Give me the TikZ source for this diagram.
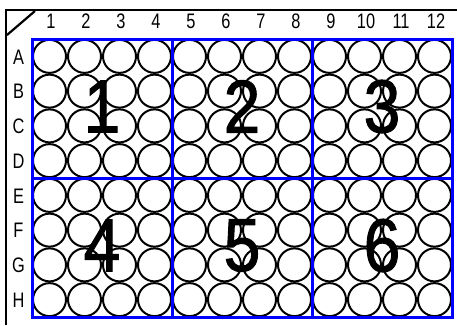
\documentclass[tikz,border=0pt]{standalone}
\usepackage{fontspec}
\setmainfont{Liberation Sans}
\newfontfamily\arialf{Liberation Sans}
\newfontfamily\bigf[FakeBold=1.4]{Liberation Sans}
\begin{document}
\begin{tikzpicture}[x=1pt,y=-1pt,
  well/.style={draw=black,line width=2pt,circle,minimum size=33pt,inner sep=0pt},
  blk/.style={draw=blue,line width=3pt},
  frame/.style={draw=black,line width=2.6pt},
  lab/.style={font=\arialf\fontsize{21}{21}\selectfont,xscale=0.78,inner sep=0pt,anchor=center},
  big/.style={font=\bigf\fontsize{75}{75}\selectfont,xscale=0.88,inner sep=0pt,anchor=center}]
\useasboundingbox (0,0) rectangle (457,325);
\fill[white] (0,0) rectangle (457,325);
% frame
\coordinate (fl) at (6,325);
\coordinate (fc) at (6,10);
\coordinate (fr) at (457,10);
\draw[frame] (fl) -- (fc) -- (fr);
\coordinate (d1) at (7,35);
\coordinate (d2) at (35,11);
\draw[frame,line width=2.2pt] (d1) -- (d2);
% wells
\foreach \c in {1,...,12}{
  \foreach \r [count=\ri] in {A,B,C,D,E,F,G,H}{
    \node[well] (w\r\c) at ({32+17.5+35*(\c-1)},{39+17.375+34.75*(\ri-1)}) {};
  }
}
% column labels
\foreach \c in {1,...,12}{
  \node[lab] (col\c) at ({32+19+35*(\c-1)},21.5) {\c};
}
% row labels
\foreach \r [count=\ri] in {A,B,C,D,E,F,G,H}{
  \node[lab] (row\r) at (18.5,{39+18+34.75*(\ri-1)}) {\r};
}
% blocks
\foreach \bx in {0,1,2}{
  \foreach \by in {0,1}{
    \draw[blk] ({32+140*\bx},{39+139*\by}) rectangle ({172+140*\bx},{178+139*\by});
  }
}
% big numbers
\node[big] (n1) at (102,106.5) {1};
\node[big] (n2) at (242,106.5) {2};
\node[big] (n3) at (382,106.5) {3};
\node[big] (n4) at (102,245.5) {4};
\node[big] (n5) at (242,245.5) {5};
\node[big] (n6) at (382,245.5) {6};
\end{tikzpicture}
\end{document}
